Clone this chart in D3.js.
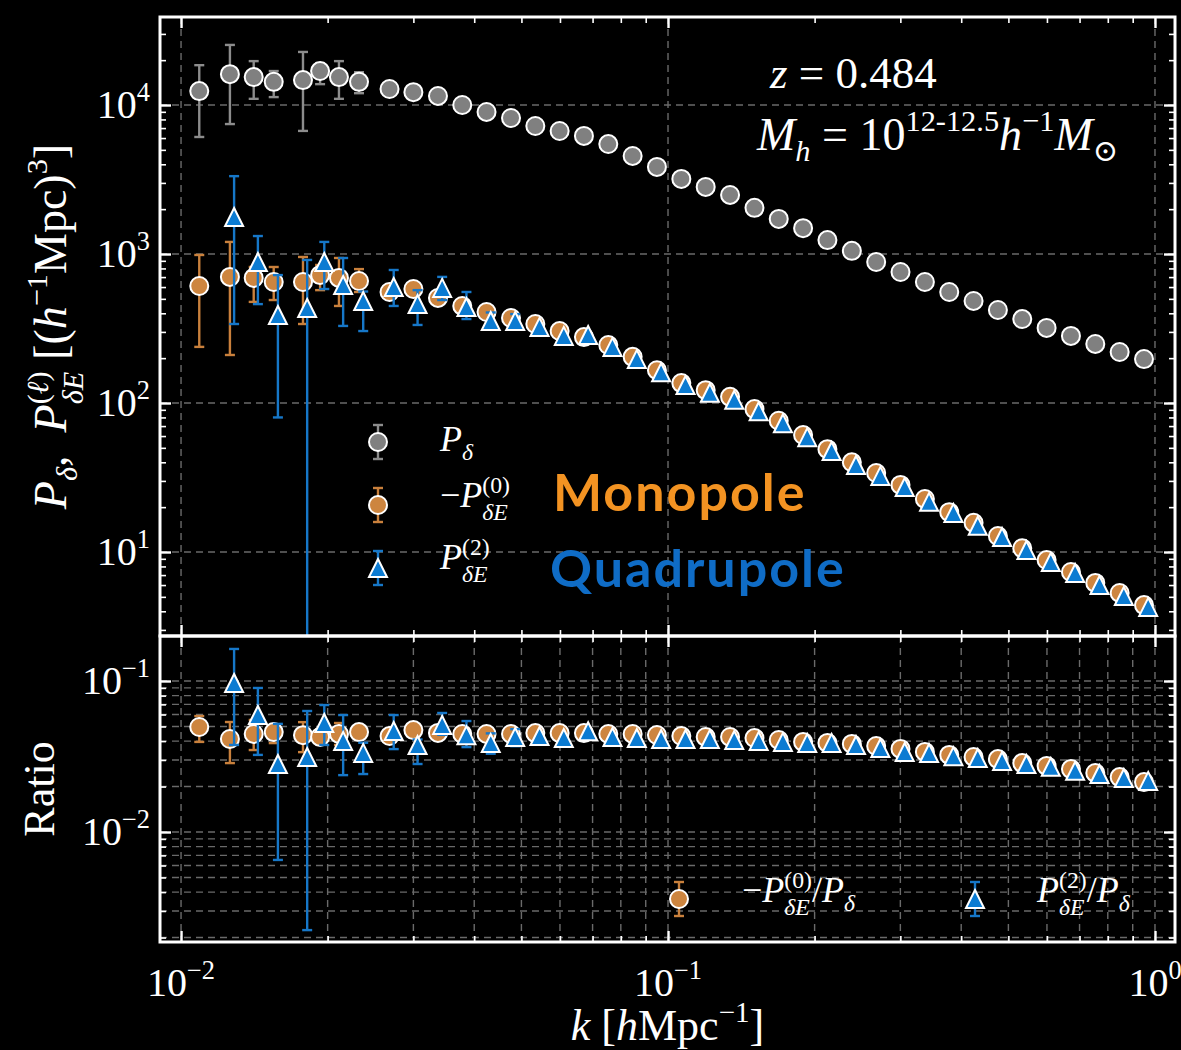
<!DOCTYPE html>
<html>
<head>
<meta charset="utf-8">
<script src="https://cdn.jsdelivr.net/npm/d3@7"></script>
<style>
  html, body { margin: 0; padding: 0; background: #000; }
  svg { display: block; }
  svg text { white-space: pre; }
</style>
</head>
<body>
<svg id="chart" width="1181" height="1050"></svg>
<script>
// ---- data -------------------------------------------------------------
// wavenumber bins k [h/Mpc]
const k = [0.0109, 0.0126, 0.0141, 0.0155, 0.0178, 0.0193, 0.0211, 0.0232,
  0.0268, 0.0300, 0.0337, 0.0378, 0.0424, 0.0476, 0.0534, 0.0599, 0.0672,
  0.0754, 0.0846, 0.0949, 0.1065, 0.1195, 0.1341, 0.1505, 0.1688, 0.1894,
  0.2125, 0.2385, 0.2676, 0.3002, 0.3369, 0.3780, 0.4241, 0.4758, 0.5339,
  0.5990, 0.6721, 0.7541, 0.8461, 0.9494];

// halo auto power spectrum P_delta
const pDelta = [12400, 16100, 15400, 14300, 14700, 16900, 15400, 14300,
  12800, 12200, 11500, 10000, 8980, 8180, 7230, 6690, 6200, 5470, 4550, 3840,
  3190, 2820, 2490, 2040, 1720, 1490, 1240, 1050, 884, 757, 649, 556, 484,
  421, 366, 319, 282, 249, 220, 197];
const pDeltaErr = [[6100, 18500], [7450, 25300], [11000, 19700], [11300, 16900],
  [6700, 22700], [13800, 19100], [11000, 19700], [12000, 16600]];

// -P^(0)_{deltaE}: monopole of the density-shape cross spectrum
const monopole = [610, 702, 691, 649, 649, 722, 691, 659, 556, 582, 507, 448,
  408, 372, 339, 304, 277, 245, 204, 166, 136, 122, 110, 91, 76, 61, 49, 40,
  33.9, 28.2, 22.7, 18.5, 15.7, 12.8, 10.6, 8.83, 7.34, 6.20, 5.31, 4.40];
const monopoleErr = [[238, 985], [210, 1205], [477, 818], [491, 818],
  [339, 955], [572, 844], [448, 940], [556, 792]];

// P^(2)_{deltaE}: quadrupole, available from the second k bin onward
const quadrupole = [1770, 883, 390, 434, 883, 620, 484, 601, 462, 592, 441,
  355, 355, 324, 282, 286, 238, 197, 161, 132, 117, 105, 88, 73, 59, 47.6,
  38.4, 32.4, 27.3, 21.7, 18.3, 15.0, 12.6, 10.3, 8.57, 7.23, 6.01, 5.07, 4.28];
const quadrupoleErr = [[339, 3330], [461, 1320], [80, 722], [1, 912],
  [582, 1205], [329, 940], [304, 560], [448, 781], [334, 572], [491, 702],
  [366, 556], [310, 405], [320, 395]];

// ratios to P_delta
const monoRatio = [0.0496, 0.0413, 0.0446, 0.0459, 0.0438, 0.0426, 0.0446,
  0.0459, 0.0432, 0.0473, 0.0453, 0.0446, 0.0446, 0.0446, 0.0452, 0.0452,
  0.0452, 0.0446, 0.0446, 0.0439, 0.0432, 0.0426, 0.0426, 0.0419, 0.0407,
  0.0395, 0.0389, 0.0383, 0.0371, 0.0355, 0.0339, 0.0324, 0.0314, 0.0304,
  0.0286, 0.0274, 0.0261, 0.0246, 0.0231, 0.0214];
const monoRatioErr = [[0.0395, 0.0586], [0.0286, 0.0535], [0.0349, 0.0552],
  [0.0388, 0.0496], [0.0338, 0.0534], [0.038, 0.048], [0.0377, 0.0527],
  [0.041, 0.050]];
const quadRatio = [0.0970, 0.0595, 0.0282, 0.0314, 0.0527, 0.0401, 0.0334,
  0.0467, 0.0377, 0.0512, 0.0438, 0.0388, 0.0426, 0.0432, 0.0419, 0.0465,
  0.0426, 0.0419, 0.0413, 0.0413, 0.0413, 0.0407, 0.0401, 0.0395, 0.0389,
  0.0389, 0.0377, 0.0360, 0.0339, 0.0333, 0.0318, 0.0309, 0.0295, 0.0282,
  0.0270, 0.0254, 0.0242, 0.0228, 0.0218];
const quadRatioErr = [[0.0377, 0.163], [0.0324, 0.0899], [0.00653, 0.052],
  [0.00224, 0.0633], [0.0377, 0.0693], [0.0238, 0.0595], [0.0242, 0.039],
  [0.0354, 0.0595], [0.0282, 0.041], [0.044, 0.0614], [0.0365, 0.0543],
  [0.033, 0.045], [0.037, 0.048]];

// tick values
const xTicks = [1e-2, 1e-1, 1];
const xTickExp = ['−2', '−1', '0'];
const topYTicks = [1e1, 1e2, 1e3, 1e4];
const topYTickExp = ['1', '2', '3', '4'];
const botYTicks = [1e-2, 1e-1];
const botYTickExp = ['−2', '−1'];

// ---- layout & style ----------------------------------------------------
const W = 1181, H = 1050;
const L = 160, R = 1175, T = 17, MID = 636, B = 942;
const QUAD_SHIFT = 1.02;          // small horizontal offset for quadrupole markers
const COL = {
  grayFill: '#808080', grayErr: '#8c8c8c',
  orangeFill: '#cd853f', orangeErr: '#c9803c',
  blueFill: '#0b7bd2', blueErr: '#1677c8',
  grid: '#6a6a6a'
};
const SERIF = "'Liberation Serif', 'DejaVu Serif', serif";

const svg = d3.select('#chart')
  .attr('font-family', SERIF)
  .attr('fill', '#fff');
svg.append('rect').attr('width', W).attr('height', H).attr('fill', '#000');

const x = d3.scaleLog().domain([10 ** -2.0432, 10 ** 0.0411]).range([L, R]);
const yTop = d3.scaleLog().domain([10 ** 0.4362, 10 ** 4.5906]).range([MID, T]);
const yBot = d3.scaleLog().domain([10 ** -2.7285, 10 ** -0.702]).range([B, MID]);

function minorValues(scale) {
  const [a, b] = scale.domain();
  const out = [];
  for (let e = Math.floor(Math.log10(a)); e <= Math.ceil(Math.log10(b)); e++) {
    for (let m = 2; m <= 9; m++) {
      const v = m * 10 ** e;
      if (v >= a && v <= b) out.push(v);
    }
  }
  return out;
}
function majorValues(scale) {
  const [a, b] = scale.domain();
  const out = [];
  for (let e = Math.floor(Math.log10(a)); e <= Math.ceil(Math.log10(b)); e++) {
    const v = 10 ** e;
    if (v >= a && v <= b) out.push(v);
  }
  return out;
}

const defs = svg.append('defs');
defs.append('clipPath').attr('id', 'clip-top').append('rect')
  .attr('x', L).attr('y', T).attr('width', R - L).attr('height', MID - T);
defs.append('clipPath').attr('id', 'clip-bot').append('rect')
  .attr('x', L).attr('y', MID).attr('width', R - L).attr('height', B - MID);

// ---- math-style text layout ---------------------------------------------
// items: {t, it} runs on the baseline, or {sup:[...], sub:[...]} script stacks
const SCRIPT = 0.66, SUP_DY = -0.40, SUB_DY = 0.36;
function mathText(parent, px, py, items, size, anchor) {
  const g = parent.append('g');
  let cx = 0;
  function piece(t, it, fs, dy, at) {
    const el = g.append('text')
      .attr('x', at).attr('y', dy)
      .attr('font-size', fs)
      .attr('font-style', it ? 'italic' : 'normal')
      .text(t);
    return el.node().getComputedTextLength();
  }
  function run(list, fs, dy, start) {
    let p = start;
    for (const s of list) p += piece(s.t, s.it, fs, dy, p);
    return p - start;
  }
  for (const item of items) {
    if (item.sup || item.sub) {
      const fs = size * SCRIPT;
      const both = item.sup && item.sub;
      const w1 = item.sup ? run(item.sup, fs, size * (both ? SUP_DY : -0.42), cx) : 0;
      const w2 = item.sub ? run(item.sub, fs, size * (both ? SUB_DY : 0.24), cx) : 0;
      cx += Math.max(w1, w2);
    } else {
      cx += piece(item.t, item.it, size, 0, cx);
    }
  }
  const dx = anchor === 'middle' ? -cx / 2 : anchor === 'end' ? -cx : 0;
  g.attr('transform', `translate(${px + dx},${py})`);
  return g;
}
const I = t => ({ t, it: true });
const U = t => ({ t, it: false });

// ---- grids -----------------------------------------------------------------
const grid = svg.append('g')
  .attr('stroke', COL.grid).attr('stroke-width', 1.4)
  .attr('stroke-dasharray', '7,5').attr('fill', 'none');

// upper panel: decades only
grid.append('g').selectAll('line').data(majorValues(x)).join('line')
  .attr('x1', d => x(d)).attr('x2', d => x(d)).attr('y1', T).attr('y2', MID);
grid.append('g').selectAll('line').data(majorValues(yTop)).join('line')
  .attr('x1', L).attr('x2', R).attr('y1', d => yTop(d)).attr('y2', d => yTop(d));

// lower panel: decades and sub-decades
grid.append('g').selectAll('line').data(majorValues(x).concat(minorValues(x))).join('line')
  .attr('x1', d => x(d)).attr('x2', d => x(d)).attr('y1', MID).attr('y2', B);
grid.append('g').selectAll('line').data(majorValues(yBot).concat(minorValues(yBot))).join('line')
  .attr('x1', L).attr('x2', R).attr('y1', d => yBot(d)).attr('y2', d => yBot(d));

// ---- error bars and markers -----------------------------------------------
function errorBars(g, rows, color) {
  const cap = 5;
  const eg = g.append('g').attr('stroke', color).attr('stroke-width', 2.4).attr('fill', 'none');
  rows.forEach(r => {
    eg.append('line').attr('x1', r.x).attr('x2', r.x).attr('y1', r.lo).attr('y2', r.hi);
    eg.append('line').attr('x1', r.x - cap).attr('x2', r.x + cap).attr('y1', r.lo).attr('y2', r.lo);
    eg.append('line').attr('x1', r.x - cap).attr('x2', r.x + cap).attr('y1', r.hi).attr('y2', r.hi);
  });
}
const triPath = s => `M0,${-s}L${s},${s}L${-s},${s}Z`;

function circles(g, pts, fill, r) {
  g.append('g').selectAll('circle').data(pts).join('circle')
    .attr('cx', d => d.x).attr('cy', d => d.y).attr('r', r)
    .attr('fill', fill).attr('stroke', '#fff').attr('stroke-width', 2);
}
function triangles(g, pts, fill, s) {
  g.append('g').selectAll('path').data(pts).join('path')
    .attr('d', triPath(s))
    .attr('transform', d => `translate(${d.x},${d.y})`)
    .attr('fill', fill).attr('stroke', '#fff').attr('stroke-width', 2)
    .attr('stroke-linejoin', 'miter');
}
function errRows(xs, errs, ys) {
  return errs.map((e, i) => e ? { x: xs[i], lo: ys(e[0]), hi: ys(e[1]) } : null).filter(Boolean);
}

const kQuad = k.slice(1);

// upper panel
const topPanel = svg.append('g').attr('clip-path', 'url(#clip-top)');
errorBars(topPanel, errRows(k.map(x), pDeltaErr, yTop), COL.grayErr);
circles(topPanel, k.map((d, i) => ({ x: x(d), y: yTop(pDelta[i]) })), COL.grayFill, 9);
errorBars(topPanel, errRows(k.map(x), monopoleErr, yTop), COL.orangeErr);
circles(topPanel, k.map((d, i) => ({ x: x(d), y: yTop(monopole[i]) })), COL.orangeFill, 9);
errorBars(topPanel, errRows(kQuad.map(d => x(d * QUAD_SHIFT)), quadrupoleErr, yTop), COL.blueErr);
triangles(topPanel, kQuad.map((d, i) => ({ x: x(d * QUAD_SHIFT), y: yTop(quadrupole[i]) })), COL.blueFill, 9);

// lower panel
const botPanel = svg.append('g').attr('clip-path', 'url(#clip-bot)');
errorBars(botPanel, errRows(k.map(x), monoRatioErr, yBot), COL.orangeErr);
circles(botPanel, k.map((d, i) => ({ x: x(d), y: yBot(monoRatio[i]) })), COL.orangeFill, 9);
errorBars(botPanel, errRows(kQuad.map(d => x(d * QUAD_SHIFT)), quadRatioErr, yBot), COL.blueErr);
triangles(botPanel, kQuad.map((d, i) => ({ x: x(d * QUAD_SHIFT), y: yBot(quadRatio[i]) })), COL.blueFill, 9);

// ---- ticks (inward, all four sides) ----------------------------------------
function tickSet(orient, scale, pos, values, len, width) {
  const gen = { bottom: d3.axisBottom, top: d3.axisTop, left: d3.axisLeft, right: d3.axisRight }[orient];
  const axis = gen(scale).tickValues(values).tickSize(-len).tickFormat('');
  const horiz = orient === 'bottom' || orient === 'top';
  const ag = svg.append('g')
    .attr('transform', horiz ? `translate(0,${pos})` : `translate(${pos},0)`)
    .call(axis);
  ag.select('.domain').remove();
  ag.selectAll('.tick line').attr('stroke', '#fff').attr('stroke-width', width);
}
[['bottom', MID], ['top', T], ['bottom', B], ['top', MID]].forEach(([o, p]) => {
  tickSet(o, x, p, majorValues(x), 11, 2.4);
  tickSet(o, x, p, minorValues(x), 6, 1.6);
});
[['left', L], ['right', R]].forEach(([o, p]) => {
  tickSet(o, yTop, p, majorValues(yTop), 11, 2.4);
  tickSet(o, yTop, p, minorValues(yTop), 6, 1.6);
  tickSet(o, yBot, p, majorValues(yBot), 11, 2.4);
  tickSet(o, yBot, p, minorValues(yBot), 6, 1.6);
});

// ---- frames -----------------------------------------------------------------
svg.append('rect').attr('x', L).attr('y', T).attr('width', R - L).attr('height', MID - T)
  .attr('fill', 'none').attr('stroke', '#fff').attr('stroke-width', 3);
svg.append('rect').attr('x', L).attr('y', MID).attr('width', R - L).attr('height', B - MID)
  .attr('fill', 'none').attr('stroke', '#fff').attr('stroke-width', 3);

// ---- tick labels -------------------------------------------------------------
const TICK_FS = 40;
const labels = svg.append('g');
xTicks.forEach((v, i) => {
  mathText(labels, x(v), 996, [U('10'), { sup: [U(xTickExp[i])] }], TICK_FS, 'middle');
});
topYTicks.forEach((v, i) => {
  mathText(labels, L - 10, yTop(v) + 13, [U('10'), { sup: [U(topYTickExp[i])] }], TICK_FS, 'end');
});
botYTicks.forEach((v, i) => {
  mathText(labels, L - 10, yBot(v) + 13, [U('10'), { sup: [U(botYTickExp[i])] }], TICK_FS, 'end');
});

// ---- axis titles (centred on their panels) ---------------------------------------
const AX_FS = 44;
const yTitle = svg.append('g').attr('transform', `translate(66,${(T + MID) / 2}) rotate(-90)`);
mathText(yTitle, 0, 0, [
  I('P'), { sub: [I('δ')] }, U(',  '),
  I('P'), { sup: [U('('), I('ℓ'), U(')')], sub: [I('δE')] }, U(' [('),
  I('h'), { sup: [U('−1')] }, U('Mpc)'), { sup: [U('3')] }, U(']')
], 46, 'middle');

const rTitle = svg.append('g').attr('transform', `translate(54,${(MID + B) / 2}) rotate(-90)`);
mathText(rTitle, 0, 0, [U('Ratio')], AX_FS, 'middle');

mathText(svg, (L + R) / 2, 1040, [
  I('k'), U(' ['), I('h'), U('Mpc'), { sup: [U('−1')] }, U(']')
], AX_FS, 'middle');

// ---- annotations -------------------------------------------------------------------
mathText(svg, 770, 88, [I('z'), U(' = 0.484')], 45, 'start');
mathText(svg, 757, 150, [
  I('M'), { sub: [I('h')] }, U(' = 10'), { sup: [U('12-12.5')] },
  I('h'), { sup: [U('−1')] }, I('M'), { sub: [U('⊙')] }
], 46, 'start');

// ---- legends --------------------------------------------------------------------------
const LEG_FS = 36;
function legendMarker(g, cx, cy, shape, fill, errColor) {
  errorBars(g, [{ x: cx, lo: cy + 17, hi: cy - 17 }], errColor);
  if (shape === 'circle') circles(g, [{ x: cx, y: cy }], fill, 9);
  else triangles(g, [{ x: cx, y: cy }], fill, 9);
}
const leg = svg.append('g');
legendMarker(leg, 378, 442, 'circle', COL.grayFill, COL.grayErr);
mathText(leg, 440, 451, [I('P'), { sub: [I('δ')] }], LEG_FS, 'start');
legendMarker(leg, 378, 505, 'circle', COL.orangeFill, COL.orangeErr);
mathText(leg, 440, 507, [U('−'), I('P'), { sup: [U('(0)')], sub: [I('δE')] }], LEG_FS, 'start');
legendMarker(leg, 378, 568, 'triangle', COL.blueFill, COL.blueErr);
mathText(leg, 440, 569, [I('P'), { sup: [U('(2)')], sub: [I('δE')] }], LEG_FS, 'start');

legendMarker(leg, 679, 899, 'circle', COL.orangeFill, COL.orangeErr);
mathText(leg, 742, 902, [U('−'), I('P'), { sup: [U('(0)')], sub: [I('δE')] }, U('/'), I('P'), { sub: [I('δ')] }], LEG_FS, 'start');
legendMarker(leg, 975, 899, 'triangle', COL.blueFill, COL.blueErr);
mathText(leg, 1037, 902, [I('P'), { sup: [U('(2)')], sub: [I('δE')] }, U('/'), I('P'), { sub: [I('δ')] }], LEG_FS, 'start');

// ---- component callouts -------------------------------------------------------------------
svg.append('text').attr('x', 553).attr('y', 511)
  .attr('font-family', "Lato, 'Open Sans', sans-serif").attr('font-weight', 700)
  .attr('font-size', 52).attr('letter-spacing', 2).attr('fill', '#f39322').text('Monopole');
svg.append('text').attr('x', 550).attr('y', 587)
  .attr('font-family', "Lato, 'Open Sans', sans-serif").attr('font-weight', 700)
  .attr('font-size', 52).attr('letter-spacing', 2).attr('fill', '#0f6cc6').text('Quadrupole');
</script>
</body>
</html>
